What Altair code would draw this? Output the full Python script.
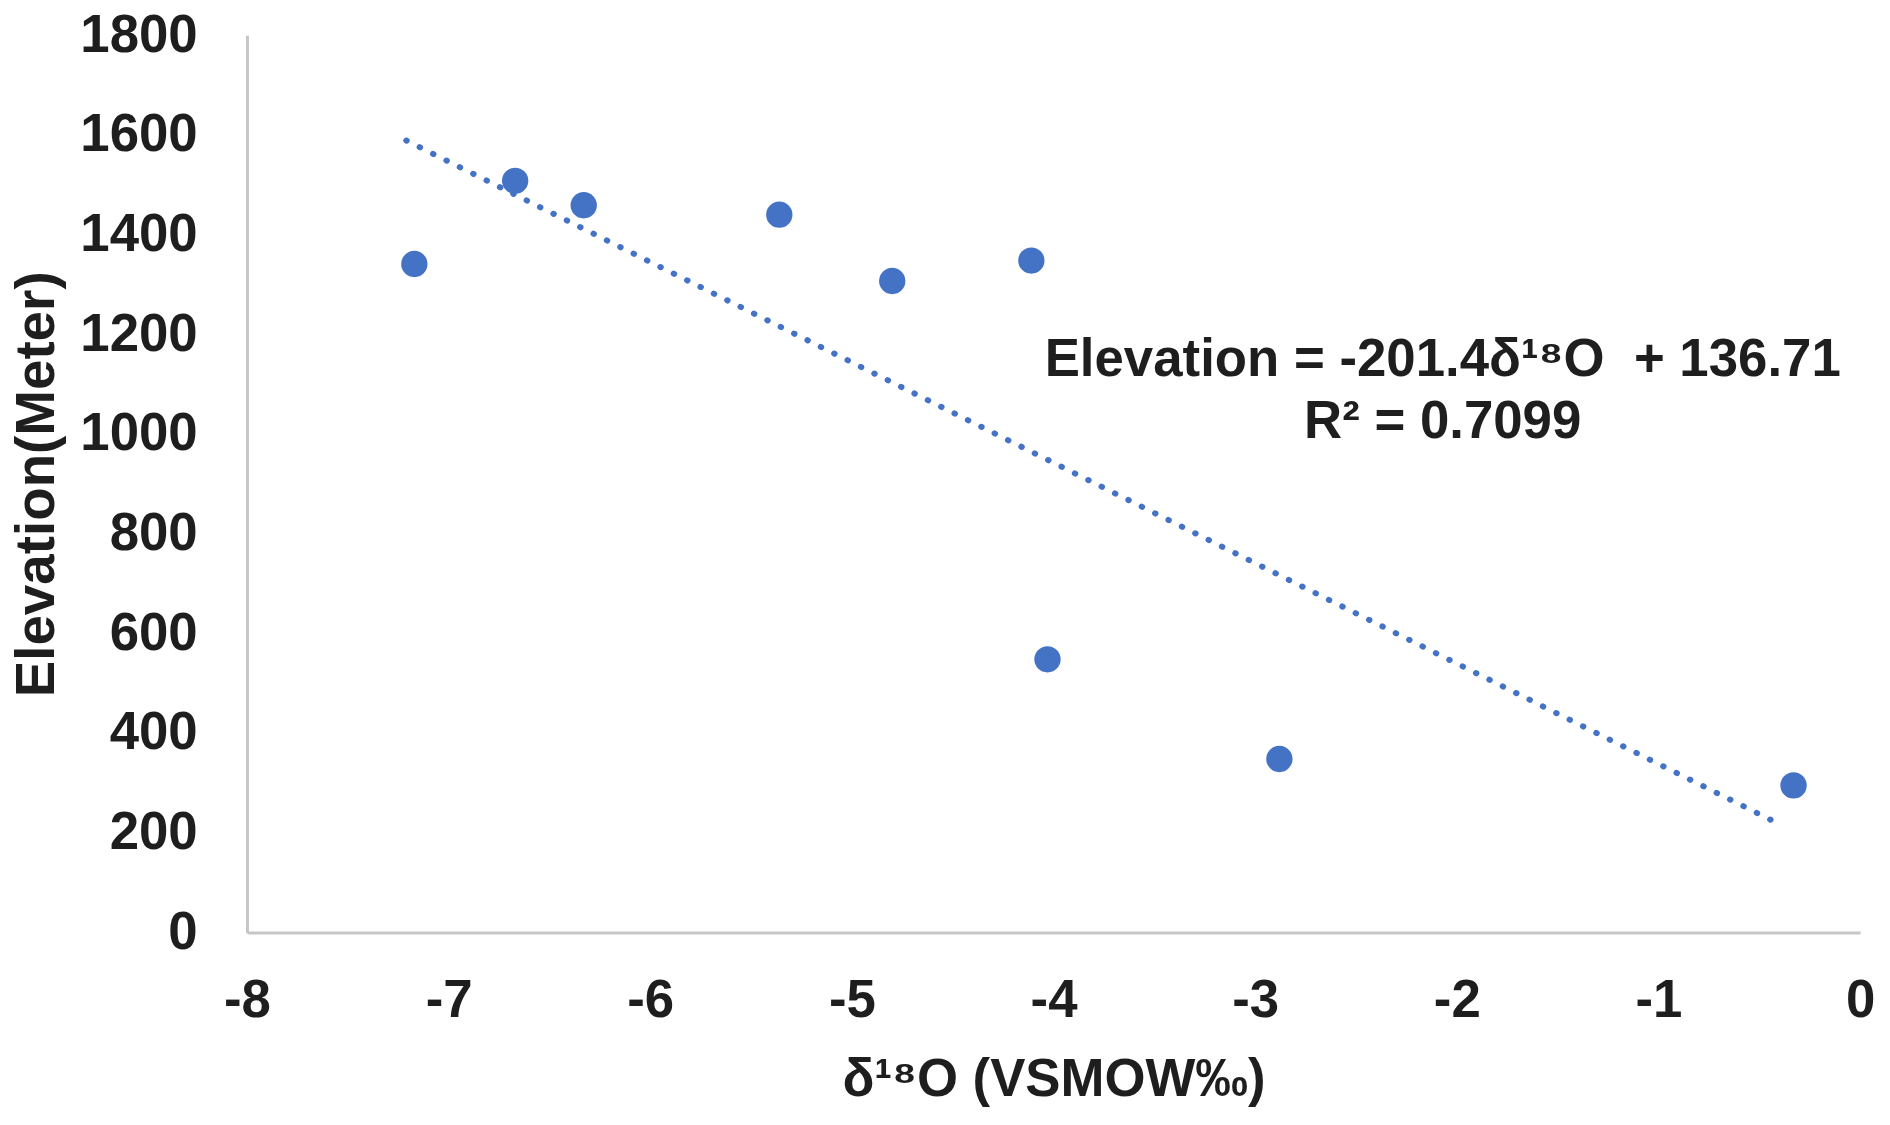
import altair as alt
import pandas as pd

# Data
d18o = [-7.17, -6.67, -6.33, -5.36, -4.80, -4.11, -4.03, -2.88, -0.33]
elevation = [1341, 1508, 1459, 1440, 1307, 1348, 548, 348, 295]

# Linear trendline (from the equation shown on the chart), drawn over this x span
slope = -201.4
intercept = 136.71
trend_x = [-7.21, -0.39]
trend_y = [slope * v + intercept for v in trend_x]

# Annotation text and its anchor in data units
ann_text = ["Elevation = -201.4δ¹⁸O\u00a0\u00a0+ 136.71", "R² = 0.7099"]
ann_x = [-2.07, -2.07]
ann_y = [1117, 991]

x_ticks = [-8, -7, -6, -5, -4, -3, -2, -1, 0]
y_ticks = [0, 200, 400, 600, 800, 1000, 1200, 1400, 1600, 1800]

FONT = "Liberation Sans"
BLUE = "#4472C4"
TXT = "#1e1e1e"
W, H = 1620, 901

pts = pd.DataFrame({"x": d18o, "y": elevation})
trend = pd.DataFrame({"x": trend_x, "y": trend_y})
ann = pd.DataFrame({"x": ann_x, "y": ann_y, "t": ann_text})

xscale = alt.Scale(domain=[-8, 0], nice=False, zero=False)
yscale = alt.Scale(domain=[0, 1800], nice=False)

xaxis = alt.Axis(
    values=x_ticks, title="δ¹⁸O (VSMOW‰)", grid=False, ticks=False,
    labelExpr="'' + datum.value",
    domainColor="#c6c6c6", domainWidth=3,
    labelFont=FONT, labelFontSize=53, labelFontWeight="bold", labelColor=TXT,
    labelPadding=42, labelFlush=False, labelOverlap=False, labelBound=False,
    titleFont=FONT, titleFontSize=53, titleFontWeight="bold", titleColor=TXT,
    titleX=W / 2, titleY=164, titleAlign="center", titleBaseline="alphabetic",
)
yaxis = alt.Axis(
    values=y_ticks, title="Elevation(Meter)", grid=False, ticks=False,
    labelExpr="'' + datum.value",
    domainColor="#c6c6c6", domainWidth=3,
    labelFont=FONT, labelFontSize=53, labelFontWeight="bold", labelColor=TXT,
    labelPadding=50, labelFlush=False, labelOverlap=False, labelBound=False,
    titleFont=FONT, titleFontSize=55, titleFontWeight="bold", titleColor=TXT,
    titleX=-211, titleY=H / 2, titleAngle=270, titleAlign="center",
    titleBaseline="middle",
)

points = alt.Chart(pts).mark_circle(size=700, opacity=1, color=BLUE).encode(
    x=alt.X("x:Q", scale=xscale, axis=xaxis),
    y=alt.Y("y:Q", scale=yscale, axis=yaxis),
)

line = alt.Chart(trend).mark_line(
    color=BLUE, strokeWidth=6, strokeDash=[0.5, 14.5], strokeCap="round"
).encode(
    x=alt.X("x:Q", scale=xscale),
    y=alt.Y("y:Q", scale=yscale),
)

text = alt.Chart(ann).mark_text(
    font=FONT, fontSize=53, fontWeight="bold", color=TXT,
    align="center", baseline="alphabetic",
).encode(
    x=alt.X("x:Q", scale=xscale),
    y=alt.Y("y:Q", scale=yscale),
    text="t:N",
)

chart = (
    alt.layer(line, points, text)
    .properties(
        width=W, height=H,
        autosize=alt.AutoSizeParams(type="none"),
        padding={"left": 240, "top": 25, "right": 22, "bottom": 191},
        background="white",
    )
    .configure_view(stroke=None)
)

chart.save("out.html", embed_options={"renderer": "svg", "actions": False})
